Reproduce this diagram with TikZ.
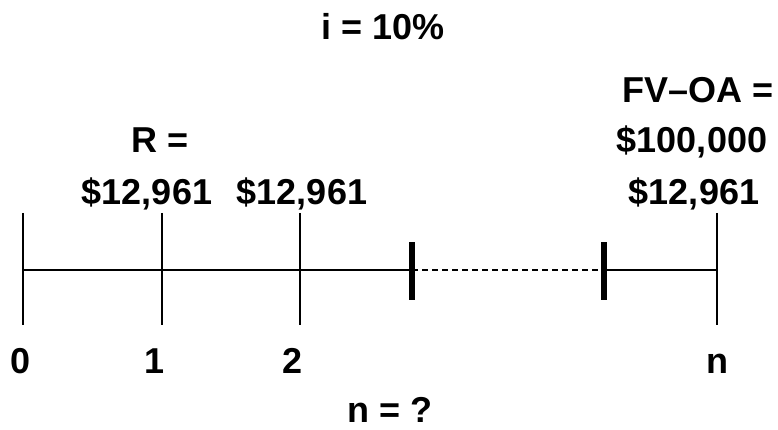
\documentclass[tikz,border=0pt]{standalone}
\usepackage{fontspec}
\setmainfont{Liberation Sans}
\usetikzlibrary{positioning}
\tikzset{
  lbl/.style={font=\fontsize{36}{43}\selectfont\bfseries, inner sep=0pt, anchor=base},
  tickline/.style={line width=2.8pt},
  brkline/.style={line width=6pt},
}

\begin{document}
\begin{tikzpicture}[x=1pt,y=-1pt]
  \useasboundingbox (0,0) rectangle (778,430);

  %% Time line
  \coordinate (p0) at (23,270);
  \coordinate (p1) at (162,270);
  \coordinate (p2) at (300,270);
  \coordinate (b1) at (412,270);
  \coordinate (b2) at (604,270);
  \coordinate (pn) at (717,270);

  \draw[tickline] (p0) -- (b1);
  \draw[tickline,dash pattern=on 6pt off 4pt] (b1) -- (b2);
  \draw[tickline] (b2) -- (pn);
  \foreach \p in {p0,p1,p2,pn}
    \draw[tickline] (\p) ++(0,-57) -- ++(0,112);
  \foreach \p in {b1,b2}
    \draw[brkline] (\p) ++(0,-28) -- ++(0,58);

  %% Labels
  \node[lbl] (rate) at (383,40) {i = 10\%};
  \node[lbl] (fvlbl) at (698,103) {FV–OA =};
  \node[lbl] (rlbl) at (160,153) {R =};
  \node[lbl] (fvval) at (692,153) {\$100,000};
  \node[lbl] (pay1) at (147,205) {\$12,961};
  \node[lbl] (pay2) at (302,205) {\$12,961};
  \node[lbl] (payn) at (694,205) {\$12,961};

  \node[lbl] (n0) at (21,373) {0};
  \node[lbl] (n1) at (155,373) {1};
  \node[lbl] (n2) at (293,373) {2};
  \node[lbl] (nn) at (717,373) {n};
  \node[lbl] (nq) at (390,422) {n = ?};
\end{tikzpicture}
\end{document}
